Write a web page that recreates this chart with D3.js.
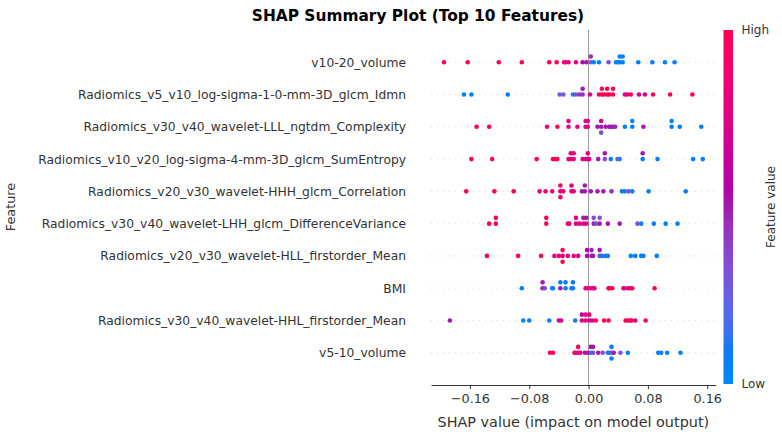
<!doctype html>
<html lang="en">
<head>
<meta charset="utf-8">
<title>SHAP Summary Plot (Top 10 Features)</title>
<style>
  body { margin: 0; background: #fff; }
  svg { display: block; font-family: "DejaVu Sans", sans-serif; }
  .grid { stroke: #cccccc; stroke-width: 0.7; stroke-dasharray: 1 5; }
  .axis text { fill: #333; font-size: 12.8px; font-family: "DejaVu Sans", sans-serif; }
  .axis path, .axis line { stroke: #333; }
</style>
</head>
<body>
<svg id="chart" width="782" height="436"></svg>

<script src="https://cdn.jsdelivr.net/npm/d3@7"></script>
<script>
// features, top to bottom
const features = [
  "v10-20_volume",
  "Radiomics_v5_v10_log-sigma-1-0-mm-3D_glcm_Idmn",
  "Radiomics_v30_v40_wavelet-LLL_ngtdm_Complexity",
  "Radiomics_v10_v20_log-sigma-4-mm-3D_glcm_SumEntropy",
  "Radiomics_v20_v30_wavelet-HHH_glcm_Correlation",
  "Radiomics_v30_v40_wavelet-LHH_glcm_DifferenceVariance",
  "Radiomics_v20_v30_wavelet-HLL_firstorder_Mean",
  "BMI",
  "Radiomics_v30_v40_wavelet-HHL_firstorder_Mean",
  "v5-10_volume"
];

// shap value of each sample, per feature
const shapValues = [
  [-0.195,-0.163,-0.121,-0.090,-0.053,-0.043,-0.033,-0.031,-0.027,-0.017,-0.008,-0.003,0.003,0.003,0.007,0.014,0.027,0.037,0.040,0.042,0.042,0.046,0.046,0.067,0.086,0.103,0.116],
  [-0.168,-0.158,-0.109,-0.039,-0.034,-0.021,-0.017,-0.012,-0.008,-0.008,0.002,0.014,0.018,0.018,0.021,0.025,0.025,0.028,0.033,0.033,0.049,0.052,0.057,0.068,0.076,0.087,0.110,0.140],
  [-0.151,-0.134,-0.056,-0.042,-0.027,-0.027,-0.015,-0.004,-0.004,-0.001,-0.001,0.012,0.017,0.017,0.017,0.023,0.028,0.031,0.034,0.036,0.049,0.059,0.059,0.074,0.112,0.112,0.123,0.152],
  [-0.158,-0.130,-0.070,-0.048,-0.045,-0.042,-0.027,-0.024,-0.024,-0.020,-0.020,-0.008,-0.004,-0.001,-0.001,0.001,0.013,0.022,0.022,0.030,0.039,0.042,0.073,0.073,0.093,0.141,0.154],
  [-0.165,-0.127,-0.101,-0.066,-0.058,-0.049,-0.038,-0.038,-0.038,-0.034,-0.023,-0.023,-0.020,-0.009,-0.005,-0.005,0.003,0.012,0.020,0.031,0.045,0.049,0.054,0.059,0.081,0.131],
  [-0.134,-0.125,-0.125,-0.057,-0.057,-0.028,-0.026,-0.017,-0.017,-0.012,-0.007,-0.007,-0.003,-0.003,0.007,0.007,0.010,0.015,0.015,0.026,0.042,0.066,0.071,0.088,0.104,0.120],
  [-0.137,-0.095,-0.064,-0.046,-0.040,-0.035,-0.035,-0.035,-0.028,-0.020,-0.014,-0.002,-0.002,0.004,0.004,0.006,0.015,0.015,0.018,0.023,0.026,0.057,0.063,0.071,0.074,0.092],
  [-0.090,-0.062,-0.062,-0.059,-0.049,-0.048,-0.038,-0.038,-0.031,-0.031,-0.023,-0.021,-0.021,-0.004,-0.001,0.003,0.006,0.008,0.027,0.028,0.032,0.047,0.049,0.054,0.057,0.059,0.089],
  [-0.187,-0.088,-0.080,-0.053,-0.040,-0.037,-0.018,-0.009,-0.009,-0.004,-0.004,0.001,0.001,0.005,0.010,0.021,0.027,0.050,0.053,0.056,0.058,0.063,0.077],
  [-0.052,-0.048,-0.019,-0.017,-0.014,-0.014,-0.011,-0.005,-0.001,0.003,0.003,0.006,0.006,0.013,0.019,0.026,0.028,0.031,0.031,0.031,0.034,0.043,0.053,0.094,0.098,0.106,0.124]
];

// normalised feature value (0 = low, 1 = high) for the same samples
const featureValues = [
  [1,1,1,1,1,0.95,0.8,0.8,0.75,0.75,0.55,0.5,0.25,0.45,0.05,0.05,0.3,0.05,0.05,0.05,0.05,0.05,0.05,0.05,0.05,0.05,0.05],
  [0.05,0.05,0.05,0.3,0.3,0.1,0.3,0.45,0.45,0.5,0.75,0.9,1,1,1,1,1,1,1,1,0.75,0.8,1,0.75,0.7,1,1,1],
  [1,1,0.9,1,0.75,0.75,0.75,0.75,0.75,0.75,0.75,0.5,0.5,0.7,0.3,0.5,0.5,0.5,0.5,0.45,0.05,0.05,0.05,0.5,0.05,0.05,0.05,0.05],
  [1,1,0.9,1,1,1,0.8,0.8,0.8,0.8,0.8,0.75,0.75,0.75,0.75,0.7,0.5,0.35,0.5,0.1,0.15,0.15,0.05,0.5,0.05,0.05,0.05],
  [1,1,1,0.85,0.85,0.8,0.8,0.9,0.85,0.8,0.8,0.75,0.75,0.5,0.5,0.5,0.5,0.5,0.5,0.45,0.1,0.1,0.3,0.1,0.05,0.05],
  [1,1,1,0.95,1,0.8,0.8,0.8,0.75,0.75,0.75,0.5,0.75,0.5,0.5,0.35,0.3,0.5,0.3,0.5,0.5,0.3,0.05,0.05,0.05,0.05],
  [1,1,1,0.8,0.8,0.8,1,1,0.8,0.8,0.75,0.55,0.55,0.5,0.5,0.5,0.35,0.5,0.1,0.1,0.1,0.05,0.05,0.05,0.05,0.05],
  [0.05,0.5,0.5,0.35,0.05,0.05,0.5,0.05,0.05,0.05,0.1,0.05,0.1,0.75,0.75,0.75,0.75,0.75,1,1,1,0.9,0.75,0.55,0.9,1,1],
  [0.5,0.05,0.05,0.05,0.65,0.75,0.1,0.75,0.65,0.75,0.75,0.75,0.8,0.75,0.9,1,1,1,1,1,0.9,0.75,1],
  [1,1,1,0.8,0.8,1,0.75,0.5,0.75,0.05,0.5,0.35,0.5,0.5,0.35,0.05,0.05,0.3,0.1,0.05,0.5,0.3,0.05,0.05,0.05,0.05,0.05]
];

const xTicks = [-0.16, -0.08, 0, 0.08, 0.16];

const svg = d3.select("#chart");
const plot = { left: 431, right: 715.7, top: 30, bottom: 385 };

// shap red_blue map: blue -> purple (darker middle) -> red, in LCh
function shapColor(t) {
  const h = 266.9 + (380.3 - 266.9) * t;
  const c = 70 + 20 * t;
  const l = 54 - 14 * (1 - Math.abs(2 * t - 1));
  return d3.hcl(h, c, l).formatRgb();
}

// x domain like matplotlib autoscale (5% margin)
const allVals = shapValues.flat();
const ext = d3.extent(allVals);
const pad = (ext[1] - ext[0]) * 0.05;
const x = d3.scaleLinear().domain([ext[0] - pad, ext[1] + pad]).range([plot.left, plot.right]);
const y = d3.scaleLinear().domain([-1, features.length]).range([plot.bottom, plot.top]);
const rowPos = i => features.length - 1 - i;

// beeswarm offsets, same idea as shap: equal bins stack up/down
function swarm(vals) {
  const keys = vals.map(v => Math.round(v * 1000));
  const order = d3.range(vals.length).sort((a, b) => keys[a] - keys[b] || a - b);
  const ys = new Array(vals.length).fill(0);
  let layer = 0, last = null;
  for (const i of order) {
    if (keys[i] !== last) layer = 0;
    ys[i] = Math.ceil(layer / 2) * ((layer % 2) * 2 - 1);
    layer++;
    last = keys[i];
  }
  const m = d3.max(ys, d => d + 1);
  return ys.map(d => d * 0.9 * 0.4 / m);
}

// dotted row lines
svg.append("g").selectAll("line")
  .data(features)
  .join("line")
  .attr("class", "grid")
  .attr("x1", plot.left).attr("x2", plot.right)
  .attr("y1", (d, i) => y(rowPos(i))).attr("y2", (d, i) => y(rowPos(i)));

// zero line
svg.append("line")
  .attr("x1", x(0)).attr("x2", x(0))
  .attr("y1", plot.top).attr("y2", plot.bottom)
  .attr("stroke", "#999999").attr("stroke-width", 1);

// dots
shapValues.forEach((vals, i) => {
  const off = swarm(vals);
  const pts = vals.map((v, k) => ({ v: v, f: featureValues[i][k], o: off[k] }));
  svg.append("g").selectAll("circle")
    .data(pts)
    .join("circle")
    .attr("cx", d => x(d.v))
    .attr("cy", d => y(rowPos(i) + d.o))
    .attr("r", 2.3)
    .attr("fill", d => shapColor(d.f));
});

// feature labels
svg.append("g").selectAll("text")
  .data(features)
  .join("text")
  .attr("x", 406)
  .attr("y", (d, i) => y(rowPos(i)))
  .attr("dy", "0.36em")
  .attr("text-anchor", "end")
  .attr("fill", "#333")
  .style("font-size", "12.3px")
  .text(d => d);

// x axis
const xAxis = d3.axisBottom(x)
  .tickValues(xTicks)
  .tickSize(4)
  .tickSizeOuter(0)
  .tickPadding(5)
  .tickFormat(d3.format(".2f"));
svg.append("g")
  .attr("class", "axis")
  .attr("transform", `translate(0,${plot.bottom})`)
  .call(xAxis);

svg.append("text")
  .attr("x", (plot.left + plot.right) / 2)
  .attr("y", 427)
  .attr("text-anchor", "middle")
  .attr("fill", "#333")
  .style("font-size", "14.4px")
  .text("SHAP value (impact on model output)");

svg.append("text")
  .attr("transform", "translate(15,207) rotate(-90)")
  .attr("text-anchor", "middle")
  .attr("fill", "#333")
  .style("font-size", "12.8px")
  .text("Feature");

// title
svg.append("text")
  .attr("x", 418)
  .attr("y", 20.5)
  .attr("text-anchor", "middle")
  .attr("fill", "#000")
  .style("font-size", "15.4px")
  .style("font-weight", "bold")
  .text("SHAP Summary Plot (Top 10 Features)");

// colour bar
const grad = svg.append("defs").append("linearGradient")
  .attr("id", "cbar").attr("x1", 0).attr("y1", 1).attr("x2", 0).attr("y2", 0);
grad.selectAll("stop")
  .data(d3.range(0, 1.0001, 0.05))
  .join("stop")
  .attr("offset", d => d)
  .attr("stop-color", d => shapColor(d));

const cb = { x: 723.5, w: 9.5, top: 30, bottom: 384 };
svg.append("rect")
  .attr("x", cb.x).attr("y", cb.top)
  .attr("width", cb.w).attr("height", cb.bottom - cb.top)
  .attr("fill", "url(#cbar)");

svg.append("text")
  .attr("x", 741.5).attr("y", cb.top).attr("dy", "0.36em")
  .attr("fill", "#333").style("font-size", "12px")
  .text("High");
svg.append("text")
  .attr("x", 741.5).attr("y", cb.bottom).attr("dy", "0.36em")
  .attr("fill", "#333").style("font-size", "12px")
  .text("Low");
svg.append("text")
  .attr("transform", `translate(775,${(cb.top + cb.bottom) / 2}) rotate(-90)`)
  .attr("text-anchor", "middle")
  .attr("fill", "#333").style("font-size", "12px")
  .text("Feature value");
</script>
</body>
</html>
